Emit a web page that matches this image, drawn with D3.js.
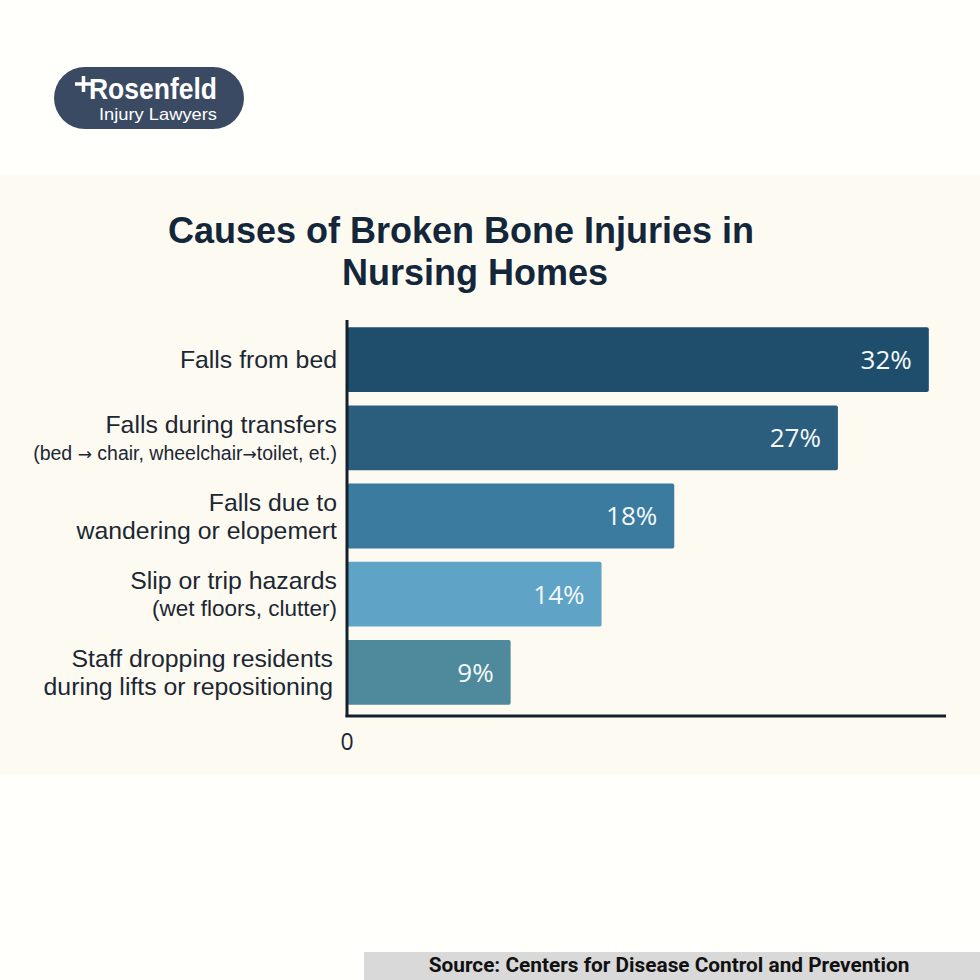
<!DOCTYPE html>
<html>
<head>
<meta charset="utf-8">
<script src="https://cdn.jsdelivr.net/npm/d3@7"></script>
<style>
html,body{margin:0;padding:0;background:#fffffb;}
svg{display:block;}
</style>
</head>
<body>
<svg id="chart" width="980" height="980"></svg>
<script>
// ---- data ----
const categories = [
  "Falls from bed",
  "Falls during transfers",
  "Falls due to wandering",
  "Slip or trip hazards",
  "Staff dropping residents"
];
const labelLines = [
  ["Falls from bed"],
  ["Falls during transfers", "(bed \u2192 chair, wheelchair\u2192toilet, et.)"],
  ["Falls due to", "wandering or elopemert"],
  ["Slip or trip hazards", "(wet floors, clutter)"],
  ["Staff dropping residents", "during lifts or repositioning"]
];
const values = [32, 27, 18, 14, 9];
const valueLabels = ["32%", "27%", "18%", "14%", "9%"];
const barColors = ["#1f4e6d", "#2b5d7d", "#3b7b9f", "#5fa3c7", "#4e8a9b"];
const xTicks = [0];
const titleLines = ["Causes of Broken Bone Injuries in", "Nursing Homes"];
const sourceText = "Source: Centers for Disease Control and Prevention";

// ---- layout ----
const svg = d3.select("#chart");
const W = 980, H = 980;
svg.append("rect").attr("x",0).attr("y",0).attr("width",W).attr("height",H).attr("fill","#fffffb");
svg.append("rect").attr("x",0).attr("y",175).attr("width",W).attr("height",600).attr("fill","#fdfaf2");

// Logo
const logo = svg.append("g");
logo.append("rect").attr("x",54).attr("y",67).attr("width",190).attr("height",62).attr("rx",31).attr("fill","#3b4a63");
logo.append("path").attr("d","M75 84 H92 M83.5 76 V92").attr("stroke","#fff").attr("stroke-width",3.5).attr("fill","none");
const logoText = logo.append("text").attr("fill","#fff").attr("font-family","'Liberation Sans', Arial, sans-serif");
logoText.append("tspan").attr("x",89).attr("y",99)
  .attr("font-weight",700).attr("font-size",29)
  .attr("textLength",128).attr("lengthAdjust","spacingAndGlyphs").text("Rosenfeld");
logoText.append("tspan").attr("x",99).attr("y",120)
  .attr("font-weight",400).attr("font-size",16.5)
  .attr("textLength",118).attr("lengthAdjust","spacingAndGlyphs").text("Injury Lawyers");

// Title (one text, two lines)
const title = svg.append("text")
  .attr("text-anchor","middle")
  .attr("font-family","'Liberation Sans', Arial, sans-serif").attr("font-weight",700).attr("font-size",36)
  .attr("fill","#13263a");
title.selectAll("tspan").data(titleLines).join("tspan")
  .attr("x",(d,i)=> i===0 ? 461 : 475)
  .attr("y",(d,i)=> 243 + i*42)
  .text(d=>d);

// Scales
const x0 = 347;
const x = d3.scaleLinear().domain([0, 33]).range([x0, 947]);
const y = d3.scaleBand().domain(categories).range([321, 711]).paddingInner(0.17).paddingOuter(0.08);

const g = svg.append("g");

// Bars
g.selectAll("rect.bar").data(values).join("rect")
  .attr("class","bar")
  .attr("x", x(0))
  .attr("y", (d,i)=> y(categories[i]))
  .attr("width", d=> x(d) - x(0))
  .attr("height", y.bandwidth())
  .attr("rx", 2)
  .attr("fill", (d,i)=> barColors[i]);

// Value labels
g.selectAll("text.val").data(values).join("text")
  .attr("class","val")
  .attr("x", d=> x(d) - 17)
  .attr("y", (d,i)=> y(categories[i]) + y.bandwidth()/2)
  .attr("dy","0.36em")
  .attr("text-anchor","end")
  .attr("font-family","'Open Sans', sans-serif").attr("font-weight",500).attr("font-size",26)
  .attr("fill","#f4f8fa")
  .text((d,i)=> valueLabels[i]);

// Category labels (one text element per category, lines as tspans)
labelLines.forEach((lines, i) => {
  const cy = y(categories[i]) + y.bandwidth()/2;
  const n = lines.length;
  const lx = i===4 ? 333 : 337;
  const t = g.append("text")
    .attr("text-anchor","end")
    .attr("font-family","'Liberation Sans', Arial, sans-serif")
    .attr("fill","#1b2733");
  lines.forEach((ln, j) => {
    const small = (i===1 && j===1);
    const off = n===1 ? 0 : (j===0 ? -14 : 14);
    const fs = small ? 19.5 : (i===3 && j===1 ? 22.5 : 24.8);
    const line = t.append("tspan")
      .attr("x", lx)
      .attr("y", cy + off + (small ? 1 : 0) + fs*0.35)
      .attr("font-size", fs);
    if (small) {
      ln.split(/(\u2192)/).forEach(part => {
        const ts = line.append("tspan").text(part);
        if (part === "\u2192") ts.attr("font-family","'DejaVu Sans', sans-serif").attr("font-size",17);
      });
    } else {
      line.text(ln);
    }
  });
});

// Axes
g.append("line").attr("x1",x0).attr("x2",x0).attr("y1",320).attr("y2",717)
  .attr("stroke","#14202c").attr("stroke-width",3);
g.append("line").attr("x1",x0-1.5).attr("x2",946).attr("y1",716).attr("y2",716)
  .attr("stroke","#14202c").attr("stroke-width",3);

g.selectAll("text.tick").data(xTicks).join("text")
  .attr("class","tick")
  .attr("x", d=> x(d))
  .attr("y", 742)
  .attr("dy","0.36em")
  .attr("text-anchor","middle")
  .attr("font-family","'Open Sans', sans-serif").attr("font-size",23)
  .attr("fill","#1b2733")
  .text(d=> d);

// Source
svg.append("rect").attr("x",364).attr("y",952).attr("width",616).attr("height",28).attr("fill","#d9d9d9");
svg.append("text").attr("x",669).attr("y",965).attr("dy","0.36em")
  .attr("text-anchor","middle")
  .attr("font-family","Roboto, sans-serif").attr("font-weight",700).attr("font-size",20.8)
  .attr("fill","#111")
  .text(sourceText);
</script>
</body>
</html>
